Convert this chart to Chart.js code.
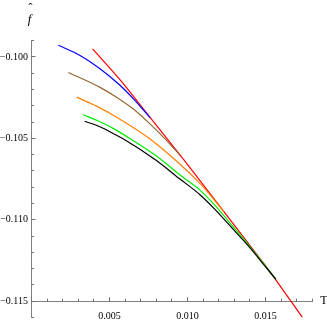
<!DOCTYPE html>
<html>
<head>
<meta charset="utf-8">
<script src="https://cdn.jsdelivr.net/npm/chart.js@4.4.1/dist/chart.umd.min.js"></script>
<style>
  html, body { margin: 0; padding: 0; background: #fff; }
  #wrap { width: 327px; height: 327px; }
</style>
</head>
<body>
<div id="wrap"><canvas id="chart" width="327" height="327"></canvas></div>
<script>
// values (T, f-hat)
const tRed = [0.00392, 0.00567, 0.00760, 0.00973, 0.01317, 0.01497, 0.01663, 0.01736];
const fRed = [-0.09951, -0.10140, -0.10372, -0.10628, -0.11055, -0.11279, -0.11500, -0.11599];

const tBlue = [0.00172, 0.00311, 0.00439, 0.00567, 0.00664, 0.00760];
const fBlue = [-0.09929, -0.09991, -0.10073, -0.10174, -0.10268, -0.10374];

const tBrown = [0.00236, 0.00439, 0.00535, 0.00653, 0.00749, 0.00856, 0.00952];
const fBrown = [-0.10096, -0.10187, -0.10241, -0.10320, -0.10402, -0.10503, -0.10604];

const tOrange = [0.00290, 0.00439, 0.00535, 0.00749, 0.00909, 0.01080, 0.01234];
const fOrange = [-0.10247, -0.10313, -0.10364, -0.10496, -0.10622, -0.10777, -0.10951];

const tGreen = [0.00328, 0.00439, 0.00535, 0.00638, 0.00824, 0.00952, 0.01080, 0.01176, 0.01301, 0.01401, 0.01497, 0.01567];
const fGreen = [-0.10354, -0.10398, -0.10445, -0.10506, -0.10625, -0.10725, -0.10818, -0.10912, -0.11052, -0.11166, -0.11280, -0.11366];

const tBlack = [0.00341, 0.00439, 0.00535, 0.00587, 0.00792, 0.00952, 0.01080, 0.01176, 0.01292, 0.01401, 0.01497, 0.01567];
const fBlack = [-0.10395, -0.10429, -0.10476, -0.10502, -0.10630, -0.10750, -0.10846, -0.10936, -0.11058, -0.11173, -0.11285, -0.11366];

// axis ranges and ticks
const xMin = 0, xMax = 0.018, xStep = 0.005, xMinorStep = 0.001;
const yMin = -0.116, yMax = -0.099, yStep = 0.005, yMinorStep = 0.001;
const xCross = -0.115;   // where the T axis crosses
const xTitle = 'T';
const yTitle = 'f';

const pts = (ts, fs) => ts.map((t, i) => ({ x: t, y: fs[i] }));

const series = [
  { name: 'black', t: tBlack, f: fBlack, color: '#000000' },
  { name: 'green', t: tGreen, f: fGreen, color: '#00ee00' },
  { name: 'orange', t: tOrange, f: fOrange, color: '#ff8000' },
  { name: 'brown', t: tBrown, f: fBrown, color: '#996633' },
  { name: 'blue', t: tBlue, f: fBlue, color: '#0000ff' },
  { name: 'red', t: tRed, f: fRed, color: '#ff0000' }
];

const axisGray = '#808080';
const tickGray = '#707070';
const serif = "'Liberation Serif', 'DejaVu Serif', serif";
Chart.defaults.font.family = serif;
Chart.defaults.font.size = 10;
Chart.defaults.color = '#000';

// tick marks pointing into the plot, one set per scale
const tickLen = { x: 4, x2: 2.5, y: 4, y2: 2.5 };
const innerTicks = {
  id: 'innerTicks',
  afterDraw(chart) {
    const ctx = chart.ctx;
    const sc = chart.scales;
    const yAxisPix = sc.y.getPixelForValue(xCross);
    const xAxisPix = sc.x.getPixelForValue(xMin);
    ctx.save();
    ctx.strokeStyle = tickGray;
    ctx.lineWidth = 1;
    for (const id of Object.keys(tickLen)) {
      const s = sc[id];
      if (!s) continue;
      const len = tickLen[id];
      const horiz = id.charAt(0) === 'x';
      const vals = s.ticks.map(t => t.value);
      for (const v of vals) {
        const p = Math.floor(s.getPixelForValue(v)) + 0.5;
        ctx.beginPath();
        if (horiz) {
          ctx.moveTo(p, yAxisPix);
          ctx.lineTo(p, yAxisPix - len);
        } else {
          ctx.moveTo(xAxisPix, p);
          ctx.lineTo(xAxisPix + len, p);
        }
        ctx.stroke();
      }
    }
    ctx.restore();
  }
};

// axis titles: "T" right of the T axis, f-hat above the f axis
const axisTitles = {
  id: 'axisTitles',
  afterDraw(chart) {
    const { ctx, chartArea, scales } = chart;
    const yPix = scales.y.getPixelForValue(xCross);
    ctx.save();
    ctx.fillStyle = '#000';
    ctx.font = '12px ' + serif;
    ctx.textAlign = 'left';
    ctx.textBaseline = 'middle';
    ctx.fillText(xTitle, chartArea.right + 8, yPix);
    ctx.font = 'italic 13px ' + serif;
    ctx.textAlign = 'center';
    ctx.textBaseline = 'alphabetic';
    ctx.fillText(yTitle, chartArea.left - 2, 23);
    ctx.font = '12px ' + serif;
    ctx.fillText('\u02C6', chartArea.left - 1, 12);
    ctx.restore();
  }
};

new Chart(document.getElementById('chart'), {
  type: 'scatter',
  data: {
    datasets: series.map(s => ({
      label: s.name,
      data: pts(s.t, s.f),
      showLine: true,
      borderColor: s.color,
      backgroundColor: s.color,
      borderWidth: 1.2,
      pointRadius: 0,
      cubicInterpolationMode: 'monotone',
      xAxisID: 'x',
      yAxisID: 'y'
    }))
  },
  options: {
    responsive: false,
    animation: false,
    events: [],
    layout: { padding: { left: 0, top: 40.6, right: 14.7, bottom: 7.6 } },
    plugins: { legend: { display: false }, tooltip: { enabled: false } },
    scales: {
      x: {
        type: 'linear',
        position: { y: xCross },
        min: xMin, max: xMax,
        grid: { display: false, drawTicks: false },
        border: { color: axisGray, width: 1 },
        ticks: {
          stepSize: xStep,
          includeBounds: false,
          maxRotation: 0,
          padding: 9,
          callback: (v) => (v === 0 ? '' : v.toFixed(3))
        }
      },
      x2: {
        type: 'linear',
        position: { y: xCross },
        min: xMin, max: xMax,
        grid: { display: false, drawTicks: false },
        border: { display: false },
        ticks: { stepSize: xMinorStep, display: false }
      },
      y: {
        type: 'linear',
        position: 'left',
        min: yMin, max: yMax,
        afterFit: (scale) => { scale.width = 31.5; },
        grid: { display: false, drawTicks: false },
        border: { color: axisGray, width: 1 },
        ticks: {
          stepSize: yStep,
          includeBounds: false,
          padding: 3.5,
          callback: (v) => v.toFixed(3).replace('-', '\u2212')
        }
      },
      y2: {
        type: 'linear',
        position: { x: xMin },
        min: yMin, max: yMax,
        grid: { display: false, drawTicks: false },
        border: { display: false },
        ticks: { stepSize: yMinorStep, display: false }
      }
    }
  },
  plugins: [innerTicks, axisTitles]
});
</script>
</body>
</html>
